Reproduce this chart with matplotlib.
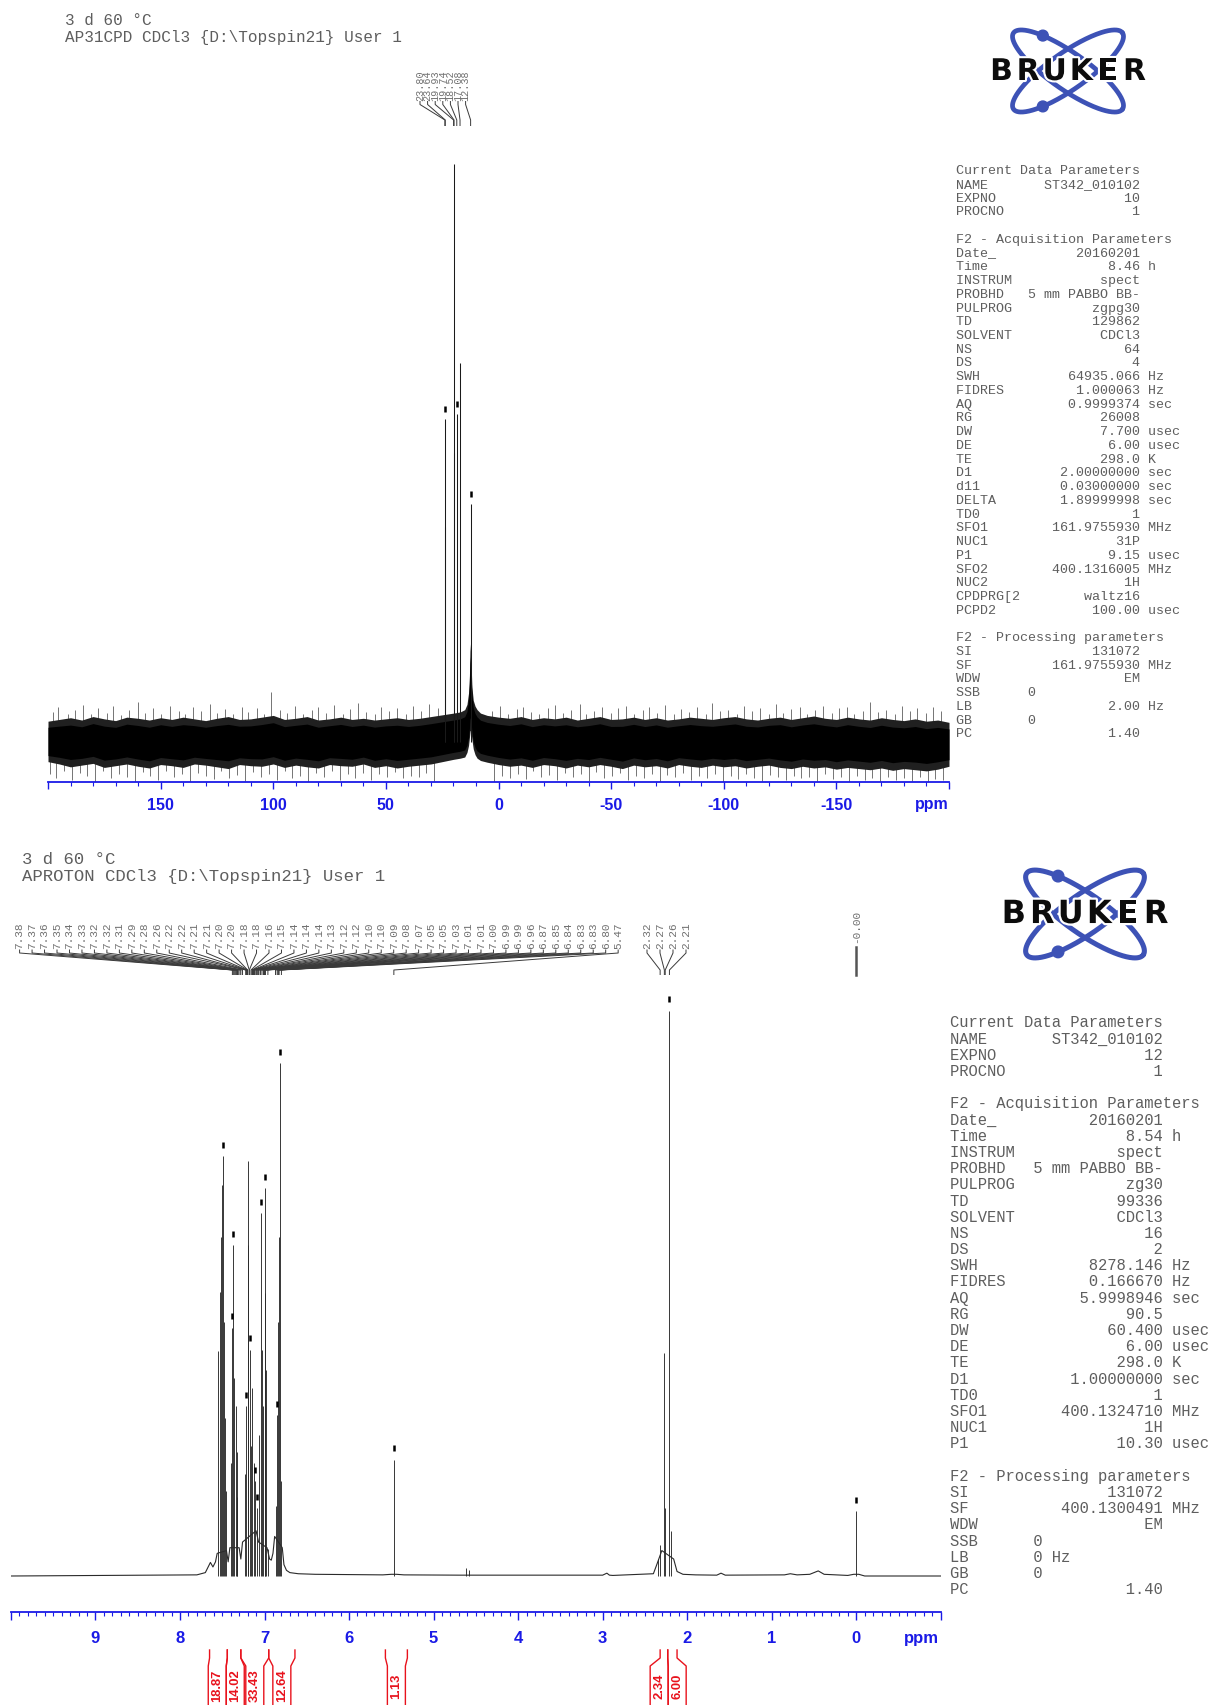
import numpy as np
import matplotlib
matplotlib.use("Agg")
import matplotlib.pyplot as plt
import matplotlib.patheffects as pe
from matplotlib.patches import Circle

W, H, DPI = 1217, 1706, 100
MONO = "Liberation Mono"
SANS = "Liberation Sans"
TXT = "#5e5e5e"
PICK = "#707070"
BLUE = "#1a1ae6"
RED = "#e8121c"
LOGO_BLUE = "#3d52b6"

# ------------------------------------------------------------------
# 31P{1H} spectrum (AP31CPD)
# ------------------------------------------------------------------
p31_header = ["3 d 60 °C", "AP31CPD CDCl3 {D:\\Topspin21} User 1"]
p31_pick_ppm = [23.80, 23.64, 19.93, 19.74, 18.52, 17.08, 12.38]
p31_line_height = [55.9, 37.2, 100.0, 50.0, 56.7, 65.6, 41.2]
p31_marked_ppm = [23.80, 18.52, 12.38]

# noise band of the baseline (intensity units, tallest line = 100)
p31_noise_ppm = ([200, 195, 190, 185, 180, 175, 170, 165, 160, 155, 150, 145, 140,
                  135, 130, 125, 120, 115, 110, 105, 100, 95, 90, 85, 80, 75, 70,
                  65, 60, 55, 50, 45, 40, 35, 30, 25, 20]
                 + [17, 15, 14, 13.3, 12.9, 12.6, 12.2, 11.8, 11.2, 10.4, 9.5, 8]
                 + [5, 0, -5, -10, -15, -20, -25, -30, -35, -40, -45, -50, -55, -60,
                    -65, -70, -75, -80, -85, -90, -95, -100, -105, -110, -115, -120,
                    -125, -130, -135, -140, -145, -150, -155, -160, -165, -170, -175,
                    -180, -185, -190, -195, -200])
p31_noise_hi = ([3.6, 3.9, 4.2, 3.8, 4.4, 4.0, 3.7, 4.3, 4.1, 3.8, 4.2, 3.9, 4.3,
                 4.0, 3.7, 4.1, 4.4, 3.9, 4.0, 4.3, 4.6, 3.9, 4.1, 4.4, 3.8, 4.0, 4.3,
                 3.9, 4.1, 3.8, 4.0, 4.2, 3.9, 4.1, 4.4, 4.7, 5.0]
                + [5.2, 5.6, 6.5, 8.5, 11.5, 17.0, 14.0, 9.5, 7.2, 6.2, 5.6, 5.0]
                + [4.6, 4.3, 4.1, 4.4, 3.9, 4.2, 4.0, 4.3, 3.8, 4.1, 4.4, 3.9, 4.0, 4.3,
                   3.9, 4.2, 3.8, 4.0, 4.3, 4.1, 3.9, 4.2, 4.4, 4.0, 3.8, 4.1, 4.3,
                   3.9, 4.2, 4.5, 4.1, 3.9, 4.3, 4.0, 3.8, 4.2, 3.9, 3.7, 4.0, 3.6,
                   3.8, 3.4])
p31_noise_lo = ([-3.4, -3.8, -4.3, -4.0, -3.7, -4.4, -4.1, -3.8, -4.2, -4.5, -3.9,
                 -4.1, -4.4, -3.8, -4.0, -4.3, -4.6, -3.9, -4.1, -4.2, -3.8, -4.4,
                 -4.0, -4.3, -4.5, -3.9, -4.1, -4.2, -3.8, -4.4, -4.1, -4.5, -4.2,
                 -4.0, -3.8, -3.4, -3.0]
                + [-2.8, -2.6, -1.8, -0.6, 0.8, 2.0, 1.8, 0.4, -1.2, -2.2, -2.8, -3.2]
                + [-3.5, -3.9, -4.2, -4.0, -4.4, -3.9, -4.1, -4.5, -4.0, -4.3, -3.9,
                   -4.2, -4.6, -4.0, -4.3, -4.1, -4.5, -3.9, -4.2, -4.4, -4.0, -4.3,
                   -4.1, -4.5, -4.2, -4.0, -4.4, -4.6, -4.2, -4.5, -4.3, -4.7, -4.4,
                   -4.6, -4.8, -4.5, -4.9, -4.6, -4.8, -5.0, -4.7, -4.2])

# noise excursions reaching out of the band (upper side)
p31_up_ppm = [198, 195.5, 191, 188, 184.5, 181, 178, 174, 171, 167.5,
              164, 160, 157, 153.5, 150, 146, 142, 139, 135.5, 132,
              128, 125, 121.5, 118, 114, 111, 107, 104, 101, 97,
              94, 90.5, 87, 83, 80, 76.5, 73, 69, 66, 62.5,
              59, 55, 52, 48.5, 45, 41, 38, 34.5, 31, 27,
              3, -0.5, -4, -8, -11, -14.5, -18, -22, -25, -28.5,
              -32, -36, -39, -42.5, -46, -50, -53, -56.5, -60, -64,
              -67, -70.5, -74, -78, -81, -84.5, -88, -92, -95, -98.5,
              -102, -106, -109, -112.5, -116, -120, -123, -126.5, -130, -134,
              -137, -140.5, -144, -148, -151, -154.5, -158, -162, -165, -168.5,
              -172, -176, -179, -182.5, -186, -190, -193, -196.5]
p31_up_h = [5.2, 6.1, 4.8, 5.6, 6.4, 4.9, 5.8, 5.1, 6.3, 4.7,
            5.5, 7.0, 5.0, 5.9, 4.8, 6.2, 5.3, 4.9, 6.0, 5.4,
            6.6, 5.0, 5.7, 4.8, 6.1, 5.2, 5.9, 4.9, 8.7, 5.5,
            5.0, 6.3, 4.8, 5.6, 6.0, 5.1, 6.4, 4.9, 5.7, 6.8,
            5.2, 4.9, 6.1, 5.4, 5.8, 4.8, 6.2, 5.3, 6.5, 5.8,
            5.4, 6.2, 4.9, 5.7, 6.0, 5.2, 4.8, 5.9, 6.4, 5.0,
            5.6, 6.6, 4.9, 5.3, 6.1, 5.0, 5.8, 6.3, 4.8, 5.5,
            6.0, 5.1, 6.4, 4.9, 5.7, 5.2, 6.1, 4.8, 6.7, 5.3,
            5.6, 4.9, 6.2, 5.4, 5.9, 4.8, 6.5, 5.1, 5.7, 6.0,
            4.9, 5.5, 6.3, 5.0, 5.8, 6.1, 4.8, 5.4, 6.9, 5.2,
            5.6, 4.9, 6.2, 5.3, 5.9, 5.0, 6.1, 5.4]
# ... and lower side
p31_dn_ppm = [199, 196.5, 193, 189.5, 186, 182.5, 179, 175.5, 172, 168.5,
              165, 161.5, 158, 154.5, 151, 147.5, 144, 140.5, 137, 133.5,
              130, 126.5, 123, 119.5, 116, 112.5, 109, 105.5, 102, 98.5,
              95, 91.5, 88, 84.5, 81, 77.5, 74, 70.5, 67, 63.5,
              60, 56.5, 53, 49.5, 46, 42.5, 39, 35.5, 32, 28.5,
              2, -1.5, -5, -8.5, -12, -15.5, -19, -22.5, -26, -29.5,
              -33, -36.5, -40, -43.5, -47, -50.5, -54, -57.5, -61, -64.5,
              -68, -71.5, -75, -78.5, -82, -85.5, -89, -92.5, -96, -99.5,
              -103, -106.5, -110, -113.5, -117, -120.5, -124, -127.5, -131, -134.5,
              -138, -141.5, -145, -148.5, -152, -155.5, -159, -162.5, -166, -169.5,
              -173, -176.5, -180, -183.5, -187, -190.5, -194, -197.5]
p31_dn_h = [-5.6, -6.2, -5.0, -6.6, -5.3, -5.9, -7.0, -5.1, -6.3, -5.5,
            -6.0, -7.4, -5.2, -5.8, -6.5, -5.0, -6.1, -5.6, -6.9, -5.3,
            -5.9, -6.4, -5.1, -6.2, -5.7, -6.8, -5.2, -6.0, -5.5, -6.6,
            -5.1, -6.3, -5.8, -6.9, -5.4, -6.1, -5.0, -6.5, -5.6, -6.2,
            -5.3, -6.6, -5.5, -6.0, -5.2, -6.3, -5.8, -6.1, -5.4, -6.7,
            -6.9, -5.8, -6.2, -5.5, -6.4, -5.1, -6.0, -5.7, -6.6, -5.3,
            -6.1, -5.6, -6.8, -5.2, -6.3, -5.9, -5.4, -6.5, -5.8, -6.2,
            -5.5, -6.9, -5.7, -6.1, -5.3, -6.6, -5.9, -6.3, -5.6, -7.0,
            -5.8, -6.4, -5.5, -6.2, -6.8, -5.7, -6.1, -6.5, -5.9, -6.3,
            -6.0, -6.7, -5.6, -6.4, -6.1, -6.9, -5.8, -6.5, -6.2, -7.3,
            -6.0, -6.6, -6.3, -6.8, -6.1, -7.0, -6.4, -6.6]

p31_params = [
    ("Current Data Parameters",), ("NAME", "ST342_010102"), ("EXPNO", "10"),
    ("PROCNO", "1"), None,
    ("F2 - Acquisition Parameters",), ("Date_", "20160201"), ("Time", "8.46", "h"),
    ("INSTRUM", "spect"), ("PROBHD", "5 mm PABBO BB-"), ("PULPROG", "zgpg30"),
    ("TD", "129862"), ("SOLVENT", "CDCl3"), ("NS", "64"), ("DS", "4"),
    ("SWH", "64935.066", "Hz"), ("FIDRES", "1.000063", "Hz"),
    ("AQ", "0.9999374", "sec"), ("RG", "26008"), ("DW", "7.700", "usec"),
    ("DE", "6.00", "usec"), ("TE", "298.0", "K"), ("D1", "2.00000000", "sec"),
    ("d11", "0.03000000", "sec"), ("DELTA", "1.89999998", "sec"), ("TD0", "1"),
    ("SFO1", "161.9755930", "MHz"), ("NUC1", "31P"), ("P1", "9.15", "usec"),
    ("SFO2", "400.1316005", "MHz"), ("NUC2", "1H"), ("CPDPRG[2", "waltz16"),
    ("PCPD2", "100.00", "usec"), None,
    ("F2 - Processing parameters",), ("SI", "131072"),
    ("SF", "161.9755930", "MHz"), ("WDW", "EM"), ("SSB", "0"),
    ("LB", "2.00", "Hz"), ("GB", "0"), ("PC", "1.40"),
]

# ------------------------------------------------------------------
# 1H spectrum (APROTON)
# ------------------------------------------------------------------
h1_header = ["3 d 60 °C", "APROTON CDCl3 {D:\\Topspin21} User 1"]
h1_pick_ppm = [7.38, 7.37, 7.36, 7.35, 7.34, 7.33, 7.32, 7.32, 7.31, 7.29, 7.28, 7.26,
               7.22, 7.22, 7.21, 7.21, 7.20, 7.20, 7.18, 7.18, 7.16, 7.15, 7.14, 7.14,
               7.14, 7.13, 7.12, 7.12, 7.10, 7.10, 7.09, 7.08, 7.07, 7.05, 7.05, 7.03,
               7.01, 7.01, 7.00, 6.99, 6.99, 6.96, 6.87, 6.85, 6.84, 6.83, 6.83, 6.80,
               5.47]
h1_methyl_pick_ppm = [2.32, 2.27, 2.26, 2.21]
h1_tms_pick_ppm = [-0.0]

h1_line_ppm = [7.545, 7.53, 7.515, 7.505, 7.49, 7.48, 7.47, 7.46,
               7.40, 7.385, 7.37, 7.355, 7.34, 7.33, 7.32,
               7.23, 7.215, 7.20, 7.19, 7.175, 7.16, 7.145, 7.13, 7.115, 7.09,
               7.06, 7.045, 7.03, 7.015, 7.00, 6.99, 6.98, 6.96,
               6.86, 6.85, 6.835, 6.825, 6.82, 6.81,
               5.47, 4.62, 4.58, 2.34, 2.32, 2.27, 2.26, 2.21, 2.19, 0.00]
h1_line_height = [39.8, 50.2, 60.0, 69.2, 74.3, 45.0, 28.0, 15.0,
                  20.0, 43.9, 58.5, 35.1, 30.0, 22.0, 14.0,
                  18.0, 30.0, 73.3, 58.5, 40.0, 23.0, 33.2, 20.0, 16.8, 12.0,
                  25.0, 64.2, 40.0, 30.0, 68.6, 50.0, 36.4, 4.8,
                  12.4, 28.5, 45.0, 60.0, 90.7, 16.8,
                  20.6, 1.4, 1.1, 3.0, 5.5, 39.4, 12.0, 100.0, 8.0, 11.5]
h1_marked_ppm = [7.49, 7.385, 7.37, 7.215, 7.175, 7.115, 7.09, 7.045, 7.00, 6.85,
                 6.82, 5.47, 2.21, 0.00]

# trace between the lines (baseline, small humps and multiplet valleys)
h1_base_ppm = [10.0, 7.80, 7.70, 7.66, 7.64, 7.61, 7.58, 7.56, 7.45, 7.43, 7.41,
               7.30, 7.28, 7.26, 7.10, 7.07, 6.97, 6.94, 6.92, 6.90, 6.88, 6.79,
               6.77, 6.74, 6.70, 6.60, 6.40, 5.60, 5.50, 5.44, 5.35, 4.70, 4.50,
               3.00, 2.95, 2.92, 2.88, 2.40, 2.36, 2.30, 2.16, 2.12, 2.05, 1.90,
               1.65, 1.60, 1.55, 0.85, 0.78, 0.70, 0.55, 0.45, 0.38, 0.10, 0.03,
               -0.03, -0.10, -1.0]
h1_base_h = [0.0, 0.2, 0.6, 1.8, 2.4, 1.6, 2.5, 4.0, 4.5, 2.5, 5.0,
             5.0, 3.0, 6.0, 8.0, 6.0, 5.0, 3.0, 2.8, 4.0, 7.0, 5.0,
             2.0, 1.0, 0.6, 0.4, 0.3, 0.2, 0.3, 0.3, 0.2, 0.15, 0.15,
             0.15, 0.5, 0.15, 0.1, 0.4, 2.0, 4.5, 3.0, 0.8, 0.3, 0.2,
             0.15, 0.5, 0.15, 0.2, 0.4, 0.2, 0.3, 0.9, 0.3, 0.1, 0.3,
             0.3, 0.0, 0.0]

h1_int_from = [7.65, 7.44, 7.28, 6.95, 5.57, 2.32, 2.23]
h1_int_to = [7.44, 7.28, 6.95, 6.64, 5.31, 2.23, 2.12]
h1_int_value = [18.87, 14.02, 33.43, 12.64, 1.13, 2.34, 6.00]

h1_params = [
    ("Current Data Parameters",), ("NAME", "ST342_010102"), ("EXPNO", "12"),
    ("PROCNO", "1"), None,
    ("F2 - Acquisition Parameters",), ("Date_", "20160201"), ("Time", "8.54", "h"),
    ("INSTRUM", "spect"), ("PROBHD", "5 mm PABBO BB-"), ("PULPROG", "zg30"),
    ("TD", "99336"), ("SOLVENT", "CDCl3"), ("NS", "16"), ("DS", "2"),
    ("SWH", "8278.146", "Hz"), ("FIDRES", "0.166670", "Hz"),
    ("AQ", "5.9998946", "sec"), ("RG", "90.5"), ("DW", "60.400", "usec"),
    ("DE", "6.00", "usec"), ("TE", "298.0", "K"), ("D1", "1.00000000", "sec"),
    ("TD0", "1"), ("SFO1", "400.1324710", "MHz"), ("NUC1", "1H"),
    ("P1", "10.30", "usec"), None,
    ("F2 - Processing parameters",), ("SI", "131072"),
    ("SF", "400.1300491", "MHz"), ("WDW", "EM"), ("SSB", "0"),
    ("LB", "0", "Hz"), ("GB", "0"), ("PC", "1.40"),
]

# ------------------------------------------------------------------
fig = plt.figure(figsize=(W / DPI, H / DPI), dpi=DPI, facecolor="white")
ov = fig.add_axes([0, 0, 1, 1], zorder=5)
ov.set_xlim(0, W)
ov.set_ylim(H, 0)
ov.axis("off")


def spectrum_axes(left, right, axis_y, top_y, y_lo, y_hi, ppm_left, ppm_right,
                  major, minor, fs, tick_len, pad):
    ax = fig.add_axes([left / W, 1 - axis_y / H, (right - left) / W,
                       (axis_y - top_y) / H], zorder=2)
    ax.set_xlim(ppm_left, ppm_right)
    ax.set_ylim(y_lo, y_hi)
    ax.patch.set_visible(False)
    for side in ("top", "left", "right"):
        ax.spines[side].set_visible(False)
    ax.spines["bottom"].set_color(BLUE)
    ax.spines["bottom"].set_linewidth(1.3)
    ax.set_yticks([])
    lo, hi = min(ppm_left, ppm_right), max(ppm_left, ppm_right)
    majors = np.arange(lo, hi + major / 2, major)
    labels = ["" if (np.isclose(v, lo) or np.isclose(v, hi)) else f"{v:.0f}"
              for v in majors]
    ax.set_xticks(majors, labels=labels, fontsize=fs, fontweight="bold",
                  family=SANS, color=BLUE)
    ax.set_xticks(np.arange(lo, hi + minor / 2, minor), minor=True)
    ax.tick_params(axis="x", which="major", direction="out",
                   length=tick_len * 0.72, width=1.0, color=BLUE, pad=pad * 0.72)
    ax.tick_params(axis="x", which="minor", direction="out",
                   length=tick_len * 0.55 * 0.72, width=0.8, color=BLUE)
    return ax


def px_of(ax, ppm):
    return ax.transData.transform((ppm, 0.0))[0]


def header(lines, x, y0, dy, fs):
    for i, s in enumerate(lines):
        ov.text(x, y0 + i * dy + 0.33 * fs / 0.72, s, family=MONO, fontsize=fs,
                color=TXT, ha="left", va="baseline")


def param_block(entries, x, y0, dy, fs):
    for i, e in enumerate(entries):
        if e is None:
            continue
        if len(e) == 1:
            s = e[0]
        else:
            name, value = e[0], e[1]
            s = f"{name:<9}{value}" if value == "0" else f"{name:<9}{value:>14}"
            if len(e) > 2:
                s += " " + e[2]
        ov.text(x, y0 + i * dy + 0.33 * fs / 0.72, s, family=MONO, fontsize=fs,
                color=TXT, ha="left", va="baseline")


def pick_labels(ax, ppms, label_x, y_txt, y_stub, y_slant, y_end, fs):
    for ppm, lx in zip(ppms, label_x):
        pxp = px_of(ax, ppm)
        ov.text(lx, y_txt, f"{ppm:.2f}", rotation=90, ha="center", va="bottom",
                family=MONO, fontsize=fs, color=PICK)
        ov.plot([lx, lx, pxp, pxp], [y_txt + 1.5, y_stub, y_slant, y_end],
                color="#3a3a3a", lw=0.7, solid_capstyle="butt")


def marks(ax, ppms, heights, marked, off, ms):
    lookup = dict(zip(np.round(ppms, 3), heights))
    hs = [lookup[round(p, 3)] + off for p in marked]
    ax.plot(marked, hs, ls="none", marker="|", ms=ms, mew=1.8, color="black",
            clip_on=False, zorder=4)


def draw_logo(cx, cy, s):
    a, b, th = 66.5 * s, 18.5 * s, np.deg2rad(35)
    t = np.linspace(0, 2 * np.pi, 300)
    for sgn in (1, -1):
        u = np.array([np.cos(th), sgn * np.sin(th)])
        v = np.array([-sgn * np.sin(th), np.cos(th)])
        pts = np.outer(a * np.cos(t), u) + np.outer(b * np.sin(t), v)
        ov.plot(cx + pts[:, 0], cy + pts[:, 1], color=LOGO_BLUE, lw=3.4 * s,
                solid_capstyle="round")
    tt = np.deg2rad(232)
    u = np.array([np.cos(th), np.sin(th)])
    v = np.array([-np.sin(th), np.cos(th)])
    dot = a * np.cos(tt) * u + b * np.sin(tt) * v
    for sy in (1, -1):
        ov.add_patch(Circle((cx + dot[0], cy + sy * dot[1]), 5.4 * s,
                            color=LOGO_BLUE, zorder=6))
    pitch = 26.6 * s
    for k, ch in enumerate("BRUKER"):
        ov.text(cx + (k - 2.5) * pitch, cy + 0.5 * s, ch, family="DejaVu Sans",
                fontweight="bold", fontsize=21.5 * s, color="#0c0c0c",
                ha="center", va="center", zorder=8,
                path_effects=[pe.withStroke(linewidth=3 * s, foreground="white")])


# ---------------- top panel: 31P ----------------
U1 = 5.78  # px per intensity unit
ax1 = spectrum_axes(48, 949, 783, 140, -40 / U1, (743 - 140) / U1, 200, -200,
                    50, 10, 11.5, 7, 8)
nlo = np.array(p31_noise_lo)
nhi = np.array(p31_noise_hi)
nmid = (nlo + nhi) / 2
ax1.vlines(p31_up_ppm, 0, p31_up_h, color="#505050", lw=0.55, zorder=1)
ax1.vlines(p31_dn_ppm, 0, p31_dn_h, color="#505050", lw=0.55, zorder=1)
ax1.fill_between(p31_noise_ppm, nlo, nhi, color="#202020", lw=0, zorder=2)
ax1.fill_between(p31_noise_ppm, nmid + 0.7 * (nlo - nmid), nmid + 0.7 * (nhi - nmid),
                 color="black", lw=0, zorder=2)
ax1.vlines(p31_pick_ppm, 0, p31_line_height, color="#1a1a1a", lw=0.75, zorder=3)
marks(ax1, p31_pick_ppm, p31_line_height, p31_marked_ppm, 1.7, 5)
ov.text(932, 809.5, "ppm", family=SANS, fontweight="bold", fontsize=11.5,
        color=BLUE, ha="center", va="baseline")

header(p31_header, 65, 20, 16.3, 11.5)
pick_labels(ax1, p31_pick_ppm, [420 + 7.6 * i for i in range(len(p31_pick_ppm))],
            100.5, 105.5, 121, 127, 7.3)
param_block(p31_params, 956, 169.7, 13.74, 9.6)
draw_logo(1068, 72, 1.0)

# ---------------- bottom panel: 1H ----------------
U2 = 5.655
ax2 = spectrum_axes(10.9, 940.8, 1613, 990, -36 / U2, (1577 - 990) / U2, 10, -1,
                    1, 0.1, 12, 8, 10)
ax2.plot(h1_base_ppm, h1_base_h, color="#2a2a2a", lw=0.8, zorder=2)
ax2.vlines(h1_line_ppm, 0, h1_line_height, color="#2a2a2a", lw=0.65, zorder=3)
marks(ax2, h1_line_ppm, h1_line_height, h1_marked_ppm, 2.0, 5)
ov.text(921, 1643, "ppm", family=SANS, fontweight="bold", fontsize=12,
        color=BLUE, ha="center", va="baseline")

header(h1_header, 22, 858, 17.4, 12.4)
pick_labels(ax2, h1_pick_ppm, [19.6 + 12.47 * i for i in range(len(h1_pick_ppm))],
            949, 954, 971, 976, 8)
pick_labels(ax2, h1_methyl_pick_ppm,
            [647 + 13 * i for i in range(len(h1_methyl_pick_ppm))],
            949, 954, 971, 976, 8)
for ppm in h1_tms_pick_ppm:
    xt = px_of(ax2, ppm)
    ov.text(xt, 943, f"{ppm:.2f}", rotation=90, ha="center", va="bottom",
            family=MONO, fontsize=8, color=PICK)
    ov.plot([xt, xt], [948, 976], color="#555555", lw=1.8)
param_block(h1_params, 949.5, 1022.3, 16.19, 11.2)
draw_logo(1085, 915, 1.07)

# integral brackets below the ppm axis
edges = [(px_of(ax2, a), px_of(ax2, b)) for a, b in zip(h1_int_from, h1_int_to)]
centres = [(l + r) / 2 for l, r in edges]
half = 9.0
boxes = []
for c in centres:
    lft = c - half
    if boxes and lft < boxes[-1][1]:
        lft = boxes[-1][1]
    boxes.append([lft, lft + 2 * half])
# recentre touching groups on their own regions
groups, cur = [], [0]
for i in range(1, len(boxes)):
    if abs(boxes[i][0] - boxes[i - 1][1]) < 1e-6:
        cur.append(i)
    else:
        groups.append(cur)
        cur = [i]
groups.append(cur)
for g in groups:
    shift = np.mean([centres[i] for i in g]) - np.mean([sum(boxes[i]) / 2 for i in g])
    for i in g:
        boxes[i][0] += shift
        boxes[i][1] += shift
for (l, r), (bl, br), val in zip(edges, boxes, h1_int_value):
    for x_top, x_bot in ((l, bl), (r, br)):
        ov.plot([x_top, x_top, x_bot, x_bot], [1651, 1659, 1667, H + 2],
                color=RED, lw=1.0)
    ov.text((bl + br) / 2, 1686, f"{val:.2f}", rotation=90, ha="center",
            va="center", family=SANS, fontweight="bold", fontsize=9.4, color=RED)

fig.savefig("out.png", dpi=DPI, facecolor="white")
